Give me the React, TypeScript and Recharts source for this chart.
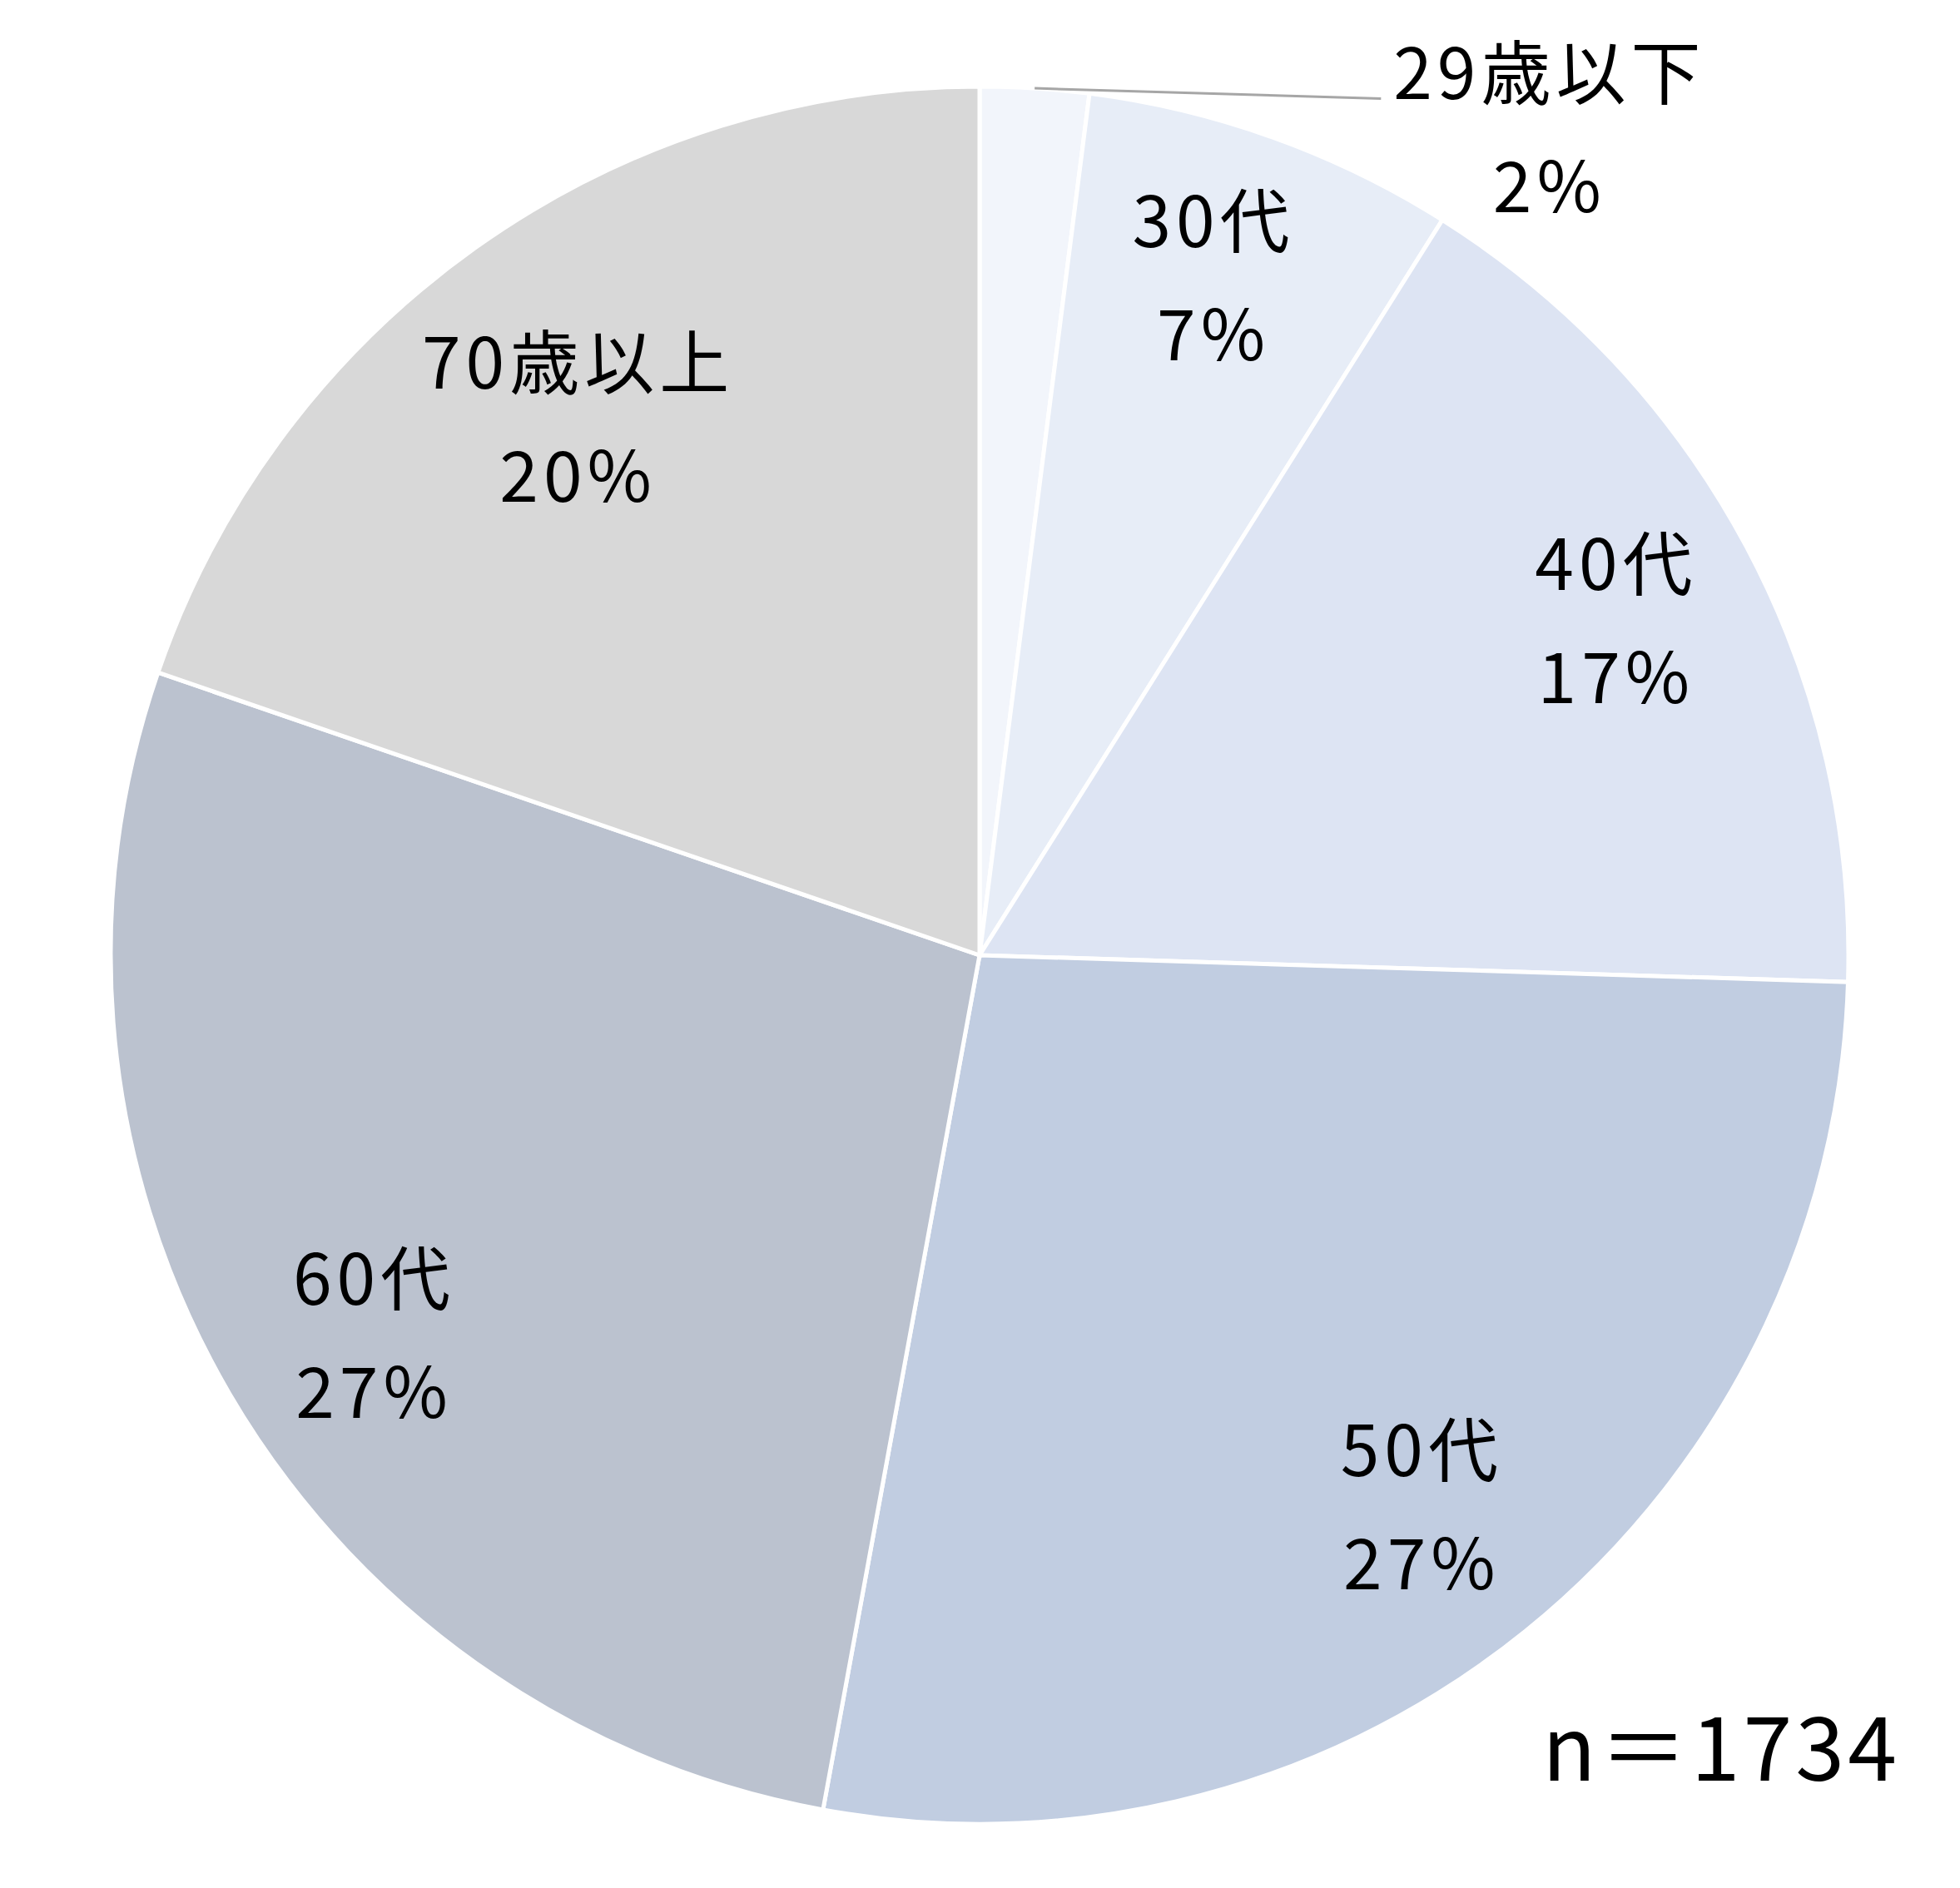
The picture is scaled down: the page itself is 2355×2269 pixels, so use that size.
import React from 'react';
import { PieChart, Pie, Cell } from 'recharts';

const categories = ['29歳以下', '30代', '40代', '50代', '60代', '70歳以上'];
const counts = [35, 120, 287, 475, 475, 342];
const sampleLabel = 'n＝1734';

const sliceColors = ['#F2F5FB', '#E7EDF7', '#DDE4F3', '#C1CDE1', '#BBC2CF', '#D8D8D8'];
// label placement: share of the radius, and a small angle nudge (deg)
const labelRadius = [1.0, 0.83, 0.83, 0.81, 0.82, 0.775];
const labelNudge = [0, 0.8, 0, 0, 1.5, 1.1];

const data = categories.map((name, i) => ({ name, value: counts[i] }));

const RADIAN = Math.PI / 180;
const FONT = '"Noto Sans CJK JP", "Noto Sans", sans-serif';
const LINE_GAP = 68;

const renderLabel = (props: any) => {
  const { cx, cy, midAngle, outerRadius, index, name, percent } = props;
  const pct = `${Math.round(percent * 100)}%`;
  let x: number;
  let y: number;
  let line = null;
  if (index === 0) {
    // small slice: label sits outside with a leader line
    x = cx + outerRadius * 0.656;
    y = cy - outerRadius * 0.955;
    const sx = cx + outerRadius * Math.cos(-midAngle * RADIAN);
    const sy = cy + outerRadius * Math.sin(-midAngle * RADIAN);
    const ex = cx + outerRadius * 0.462;
    const ey = cy - outerRadius * 0.986;
    line = <line x1={sx} y1={sy} x2={ex} y2={ey} stroke="#A6A6A6" strokeWidth={3} />;
  } else {
    const r = outerRadius * labelRadius[index];
    const a = (midAngle + labelNudge[index]) * RADIAN;
    x = cx + r * Math.cos(-a);
    y = cy + r * Math.sin(-a);
  }
  return (
    <g>
      {line}
      <text x={x} y={y - LINE_GAP} textAnchor="middle" dominantBaseline="central"
        fontFamily={FONT} fontSize={84} letterSpacing={6} fill="#000">
        {name}
      </text>
      <text x={x} y={y + LINE_GAP} textAnchor="middle" dominantBaseline="central"
        fontFamily={FONT} fontSize={84} letterSpacing={6} fill="#000">
        {pct}
      </text>
    </g>
  );
};

export default function App() {
  return (
    <div style={{ position: 'absolute', left: 0, top: 0, width: 2355, height: 2269, background: '#fff' }}>
      <PieChart width={2355} height={2269} margin={{ top: 0, right: 0, bottom: 0, left: 0 }}>
        <Pie
          data={data}
          dataKey="value"
          nameKey="name"
          cx={1177}
          cy={1148}
          outerRadius={1044}
          startAngle={90}
          endAngle={-270}
          stroke="#FFFFFF"
          strokeWidth={5}
          label={renderLabel}
          labelLine={false}
          isAnimationActive={false}
        >
          {data.map((d, i) => (
            <Cell key={d.name} fill={sliceColors[i]} />
          ))}
        </Pie>
        <text x={2068} y={2094} textAnchor="middle" dominantBaseline="central"
          fontFamily={FONT} fontSize={106} letterSpacing={4} fill="#000">
          {sampleLabel}
        </text>
      </PieChart>
    </div>
  );
}
